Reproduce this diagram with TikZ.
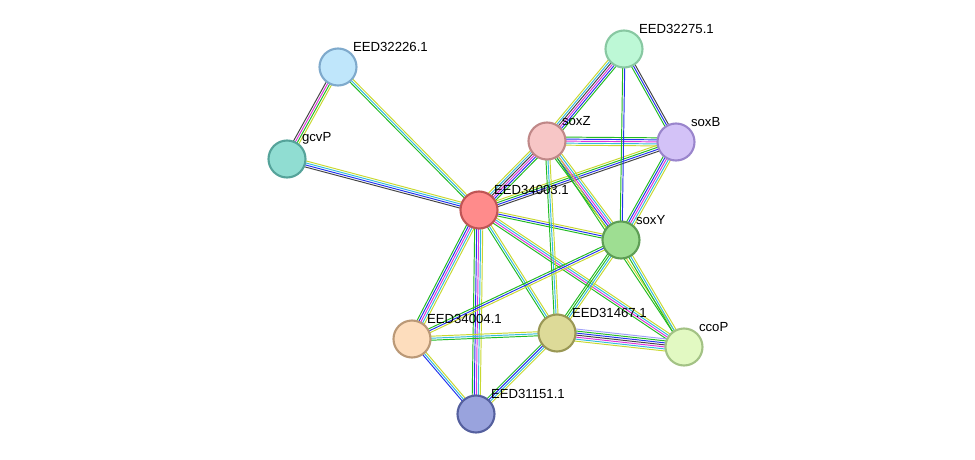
\documentclass[tikz,border=0pt]{standalone}
\usepackage{fontspec}
\setmainfont{Liberation Sans}
\usetikzlibrary{calc}
\definecolor{lg}{HTML}{22BB22}
\definecolor{lb}{HTML}{2233EE}
\definecolor{lm}{HTML}{DD33DD}
\definecolor{lk}{HTML}{444444}
\definecolor{lc}{HTML}{33BBDD}
\definecolor{ly}{HTML}{C8D830}
\definecolor{ll}{HTML}{A0A0F8}
% protein fill / border colours
\definecolor{f32226}{HTML}{BFE6FB}\definecolor{d32226}{HTML}{7FAACC}
\definecolor{fgcvP}{HTML}{90DDD2}\definecolor{dgcvP}{HTML}{55A39A}
\definecolor{f34003}{HTML}{FF8B8B}\definecolor{d34003}{HTML}{C05555}
\definecolor{f32275}{HTML}{BDF8D6}\definecolor{d32275}{HTML}{88C8A2}
\definecolor{fsoxZ}{HTML}{F7C6C6}\definecolor{dsoxZ}{HTML}{C08888}
\definecolor{fsoxB}{HTML}{D3C2F7}\definecolor{dsoxB}{HTML}{9A85CC}
\definecolor{fsoxY}{HTML}{9EDE92}\definecolor{dsoxY}{HTML}{5E9E55}
\definecolor{f34004}{HTML}{FDDDBD}\definecolor{d34004}{HTML}{BB9977}
\definecolor{f31467}{HTML}{DDDA98}\definecolor{d31467}{HTML}{9A9855}
\definecolor{fccoP}{HTML}{E2F9C2}\definecolor{dccoP}{HTML}{A3C285}
\definecolor{f31151}{HTML}{99A3DD}\definecolor{d31151}{HTML}{55609E}
\tikzset{
  prot/.style={circle,minimum size=0.74cm,inner sep=0pt,line width=1.2pt,fill=f#1,draw=d#1},
  lbl/.style={font=\fontsize{7.5}{8}\selectfont,inner sep=0.5pt,anchor=south west}
}
% parallel coloured links between two nodes
\newcommand\strlink[3]{%
  \xdef\nn{0}%
  \foreach \c in {#3}{\pgfmathtruncatemacro\tmp{\nn+1}\xdef\nn{\tmp}}%
  \foreach \c [count=\i] in {#3}{%
    \pgfmathsetmacro\off{(\i-(\nn+1)/2)*1.15}%
    \draw[\c,line width=0.55pt] ($(#1.center)!\off pt!90:(#2.center)$) -- ($(#2.center)!\off pt!-90:(#1.center)$);
  }%
}
\begin{document}
\begin{tikzpicture}[x=0.02cm,y=-0.02cm]
\useasboundingbox (0,0) rectangle (975,460);
\coordinate (c32226) at (338,67);
\coordinate (cgcvP) at (287,159);
\coordinate (c34003) at (479,210);
\coordinate (c32275) at (624,49);
\coordinate (csoxZ) at (547,141);
\coordinate (csoxB) at (676,142);
\coordinate (csoxY) at (621,240);
\coordinate (c34004) at (412,339);
\coordinate (c31467) at (557,333);
\coordinate (cccoP) at (684,347);
\coordinate (c31151) at (476,414);
% links
\strlink{c32226}{cgcvP}{lk,lm,lg,ly}
\strlink{c32226}{c34003}{lg,lc,ly}
\strlink{cgcvP}{c34003}{lk,lb,lc,ly}
\strlink{c34003}{csoxZ}{lg,lb,lm,lk,lc,ly}
\strlink{c34003}{csoxB}{lk,lb,lg,ly}
\strlink{c34003}{csoxY}{lg,lb,ly}
\strlink{c34003}{c34004}{lg,lb,lm,lc,ly}
\strlink{c34003}{c31151}{lg,lb,lm,lc,ly}
\strlink{c34003}{c31467}{lg,lc,ly}
\strlink{c34003}{cccoP}{lg,lm,lc,ly}
\strlink{csoxZ}{c32275}{lg,lb,lm,lk,lc,ly}
\strlink{csoxZ}{csoxB}{ly,lc,lm,lb,lg}
\strlink{csoxZ}{csoxY}{lg,lb,lm,lc,ly}
\strlink{csoxZ}{c31467}{lg,lc,ly}
\strlink{csoxZ}{cccoP}{lg,ly}
\strlink{c32275}{csoxB}{lg,lb,lk}
\strlink{c32275}{csoxY}{lg,lb}
\strlink{csoxB}{csoxY}{lg,lb,lm,lc,ly}
\strlink{csoxY}{c34004}{lg,lb,ly}
\strlink{csoxY}{c31467}{lg,lg,lc,ly}
\strlink{csoxY}{cccoP}{lg,lc,ly}
\strlink{c34004}{c31467}{lg,lc,ly}
\strlink{c34004}{c31151}{lb,lc,ly}
\strlink{c31467}{c31151}{lg,lb,lc,ly}
\strlink{c31467}{cccoP}{ly,lc,lm,lk,lb,lg,ll}
% proteins
\node[prot=32226,label={[lbl]45:EED32226.1}] (n32226) at (c32226) {};
\node[prot=gcvP,label={[lbl]45:gcvP}] (ngcvP) at (cgcvP) {};
\node[prot=34003,label={[lbl]45:EED34003.1}] (n34003) at (c34003) {};
\node[prot=32275,label={[lbl]45:EED32275.1}] (n32275) at (c32275) {};
\node[prot=soxZ,label={[lbl]45:soxZ}] (nsoxZ) at (csoxZ) {};
\node[prot=soxB,label={[lbl]45:soxB}] (nsoxB) at (csoxB) {};
\node[prot=soxY,label={[lbl]45:soxY}] (nsoxY) at (csoxY) {};
\node[prot=34004,label={[lbl]45:EED34004.1}] (n34004) at (c34004) {};
\node[prot=31467,label={[lbl]45:EED31467.1}] (n31467) at (c31467) {};
\node[prot=ccoP,label={[lbl]45:ccoP}] (nccoP) at (cccoP) {};
\node[prot=31151,label={[lbl]45:EED31151.1}] (n31151) at (c31151) {};
\end{tikzpicture}
\end{document}
